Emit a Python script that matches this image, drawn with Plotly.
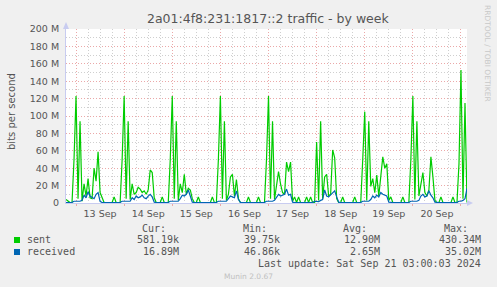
import plotly.graph_objects as go
import pandas as pd

# ---------------- data (Mbit/s, hourly samples from 12 Sep 19:00) ----------------
start_time = "2024-09-12 19:00"
end_time = "2024-09-21 03:00"

sent_12 = [4, 2, 0.5, 0.5, 50]
sent_13 = [123, 5, 94, 2, 22, 8, 28, 6, 5, 40, 25, 59, 12, 7, 0.5, 0.5, 0.5, 0.5, 0.5, 7, 0.5, 0.5, 0.5, 50]
sent_14 = [123, 5, 94, 4, 22, 10, 12, 18, 16, 12, 14, 10, 15, 38, 35, 6, 0.5, 0.5, 0.5, 7, 0.5, 0.5, 0.5, 50]
sent_15 = [123, 5, 94, 3, 22, 12, 33, 10, 17, 15, 5, 0.5, 0.5, 7, 0.5, 0.5, 0.5, 0.5, 0.5, 0.5, 7, 0.5, 0.5, 50]
sent_16 = [123, 5, 94, 3, 10, 30, 33, 8, 27, 5, 0.5, 0.5, 0.5, 0.5, 7, 0.5, 0.5, 0.5, 0.5, 7, 0.5, 0.5, 0.5, 50]
sent_17 = [123, 5, 94, 4, 21, 36, 22, 12, 10, 47, 36, 47, 2, 7, 0.5, 7, 0.5, 0.5, 0.5, 7, 0.5, 7, 0.5, 0.5]
sent_18 = [70, 3, 94, 5, 30, 33, 8, 10, 61, 52, 5, 0.5, 0.5, 7, 0.5, 0.5, 0.5, 0.5, 0.5, 7, 0.5, 0.5, 0.5, 50]
sent_19 = [105, 3, 94, 19, 28, 12, 32, 8, 35, 53, 40, 45, 3, 7, 0.5, 0.5, 0.5, 0.5, 0.5, 7, 0.5, 0.5, 0.5, 50]
sent_20 = [123, 4, 94, 8, 23, 35, 12, 8, 15, 53, 30, 3, 0.5, 0.5, 7, 0.5, 0.5, 0.5, 0.5, 0.5, 7, 0.5, 0.5, 45]
sent_21 = [153, 5, 115, 0.58]

recv_12 = [0.5, 0.5, 0.5, 0.8, 2]
recv_13 = [2, 1.5, 2, 3, 9, 6, 13, 8, 6, 5, 10, 12, 2, 0.5, 0.5, 0.5, 0.5, 0.5, 0.5, 0.5, 0.5, 0.5, 0.8, 2]
recv_14 = [2, 1.5, 2, 2, 6, 4, 8, 6, 7, 9, 6, 5, 8, 10, 7, 1, 0.5, 0.5, 0.5, 0.5, 0.5, 0.5, 0.8, 2]
recv_15 = [2, 1.5, 2, 2, 5, 9, 8, 10, 15, 8, 1, 0.5, 0.5, 0.5, 0.5, 0.5, 0.5, 0.5, 0.5, 0.5, 0.5, 0.5, 0.8, 2]
recv_16 = [2, 1.5, 2, 2, 5, 8, 7, 6, 14, 4, 0.8, 0.5, 0.5, 0.5, 0.5, 0.5, 0.5, 0.5, 0.5, 0.5, 0.5, 0.5, 0.8, 2]
recv_17 = [2, 1.5, 2, 3, 6, 10, 8, 9, 10, 16, 9, 10, 1, 0.5, 0.5, 0.5, 0.5, 0.5, 0.5, 0.5, 0.5, 0.5, 0.8, 2]
recv_18 = [2, 1.5, 3, 4, 15, 8, 7, 9, 11, 14, 7, 1, 0.5, 0.5, 0.5, 0.5, 0.5, 0.5, 0.5, 0.5, 0.5, 0.5, 0.8, 2]
recv_19 = [2, 1.5, 2, 4, 8, 6, 9, 7, 12, 10, 9, 8, 1, 0.5, 0.5, 0.5, 0.5, 0.5, 0.5, 0.5, 0.5, 0.5, 0.8, 2]
recv_20 = [2, 1.5, 2, 3, 8, 10, 7, 8, 14, 9, 6, 1, 0.5, 0.5, 0.5, 0.5, 0.5, 0.5, 0.5, 0.5, 0.5, 0.5, 0.8, 2]
recv_21 = [2, 3, 5, 16.89]

y_tick_vals = [0, 20, 40, 60, 80, 100, 120, 140, 160, 180, 200]
y_tick_text = ["0", "20 M", "40 M", "60 M", "80 M", "100 M", "120 M", "140 M",
               "160 M", "180 M", "200 M"]

series_names = ["sent", "received"]
series_colors = ["#00CC00", "#0066B3"]
stat_headers = ["Cur:", "Min:", "Avg:", "Max:"]
stats_sent = ["581.19k", "39.75k", "12.90M", "430.34M"]
stats_recv = ["16.89M", "46.86k", "2.65M", "35.02M"]
title_text = "2a01:4f8:231:1817::2 traffic - by week"
last_update = "Last update: Sat Sep 21 03:00:03 2024"

# ---------------- build ----------------
sent = sent_12 + sent_13 + sent_14 + sent_15 + sent_16 + sent_17 + sent_18 + sent_19 + sent_20 + sent_21
recv = recv_12 + recv_13 + recv_14 + recv_15 + recv_16 + recv_17 + recv_18 + recv_19 + recv_20 + recv_21
times = pd.date_range(start_time, periods=len(sent), freq="h")

W, H = 497, 287
L, R, T, B = 66, 30, 29, 84
PW, PH = W - L - R, H - T - B


def px(x):
    return (x - L) / PW


def py(y):
    return (H - B - y) / PH


fig = go.Figure()
fig.add_trace(go.Scatter(x=times, y=sent, mode="lines", name=series_names[0],
                         line=dict(color=series_colors[0], width=1.2), showlegend=False))
fig.add_trace(go.Scatter(x=times, y=recv, mode="lines", name=series_names[1],
                         line=dict(color=series_colors[1], width=1.2), showlegend=False))

TXT = "#555555"
SANS = "DejaVu Sans"
MONO = "DejaVu Sans Mono"
MAJ = "#EBA8A8"
MIN = "#CFCFCF"
DASH = "1px,2px"

fig.update_layout(
    width=W, height=H,
    margin=dict(l=L, r=R, t=T, b=B, pad=0),
    paper_bgcolor="#F0F0F0",
    plot_bgcolor="#FFFFFF",
    font=dict(family=SANS, size=10, color=TXT),
    xaxis=dict(
        type="date",
        range=[start_time, end_time],
        tick0="2024-09-13", dtick=86400000,
        ticklabelmode="period", tickformat="%d %b",
        showgrid=True, gridcolor=MAJ, griddash=DASH, gridwidth=1,
        minor=dict(dtick=21600000, showgrid=True, gridcolor=MIN, griddash=DASH, gridwidth=1),
        showline=True, linecolor="#C8CCF0", linewidth=1,
        ticks="outside", ticklen=2, tickcolor=MAJ,
        tickfont=dict(family=SANS, size=9.5, color=TXT),
        zeroline=False, fixedrange=True,
    ),
    yaxis=dict(
        range=[0, 200],
        tickvals=y_tick_vals, ticktext=y_tick_text,
        showgrid=True, gridcolor=MAJ, griddash=DASH, gridwidth=1,
        minor=dict(dtick=10, showgrid=True, gridcolor=MIN, griddash=DASH, gridwidth=1),
        showline=True, linecolor="#C8CCF0", linewidth=1,
        ticks="", ticklabelstandoff=4,
        tickfont=dict(family=SANS, size=9.5, color=TXT),
        zeroline=False, fixedrange=True,
    ),
)

ann = []
ann.append(dict(text=title_text, x=px(268), y=py(19), xref="paper", yref="paper",
                showarrow=False, xanchor="center", yanchor="middle",
                font=dict(family=SANS, size=12.5, color=TXT)))
ann.append(dict(text="bits per second", x=px(11), y=py(112), xref="paper", yref="paper",
                showarrow=False, textangle=-90, xanchor="center", yanchor="middle",
                font=dict(family=SANS, size=10, color=TXT)))
ann.append(dict(text="RRDTOOL / TOBI OETIKER", x=px(488), y=py(53), xref="paper", yref="paper",
                showarrow=False, textangle=90, xanchor="center", yanchor="middle",
                font=dict(family=SANS, size=7.5, color="#C8C8C8")))

col_right = [181, 282, 382, 483]
head_right = [168, 269, 369, 470]
for h, xr in zip(stat_headers, head_right):
    ann.append(dict(text=h, x=px(xr), y=py(228), xref="paper", yref="paper", showarrow=False,
                    xanchor="right", yanchor="middle", font=dict(family=MONO, size=10, color=TXT)))
for row_y, name, stats in [(239.5, series_names[0], stats_sent), (251.5, series_names[1], stats_recv)]:
    ann.append(dict(text=name, x=px(25), y=py(row_y), xref="paper", yref="paper", showarrow=False,
                    xanchor="left", yanchor="middle", font=dict(family=MONO, size=10, color=TXT)))
    for s, xr in zip(stats, col_right):
        ann.append(dict(text=s, x=px(xr), y=py(row_y), xref="paper", yref="paper", showarrow=False,
                        xanchor="right", yanchor="middle", font=dict(family=MONO, size=10, color=TXT)))
ann.append(dict(text=last_update, x=px(483), y=py(263.5), xref="paper", yref="paper", showarrow=False,
                xanchor="right", yanchor="middle", font=dict(family=MONO, size=10, color=TXT)))
ann.append(dict(text="Munin 2.0.67", x=px(248), y=py(276.5), xref="paper", yref="paper", showarrow=False,
                xanchor="center", yanchor="middle", font=dict(family=SANS, size=7.5, color="#C0C0C0")))
fig.update_layout(annotations=ann)

shapes = []
for i, (cy) in enumerate([240, 252]):
    shapes.append(dict(type="rect", xref="paper", yref="paper",
                       x0=px(14), x1=px(20), y0=py(cy - 3), y1=py(cy + 3),
                       fillcolor=series_colors[i], line=dict(width=0)))
# axis arrows
shapes.append(dict(type="path", xref="paper", yref="paper", xsizemode="pixel", ysizemode="pixel",
                   xanchor=1, yanchor=0, path="M 0,-3 L 0,3 L 6,0 Z",
                   fillcolor="#C8CCF0", line=dict(width=0)))
shapes.append(dict(type="path", xref="paper", yref="paper", xsizemode="pixel", ysizemode="pixel",
                   xanchor=0, yanchor=1, path="M -3,0 L 3,0 L 0,7 Z",
                   fillcolor="#C8CCF0", line=dict(width=0)))
fig.update_layout(shapes=shapes)

fig.write_html("out.html")
